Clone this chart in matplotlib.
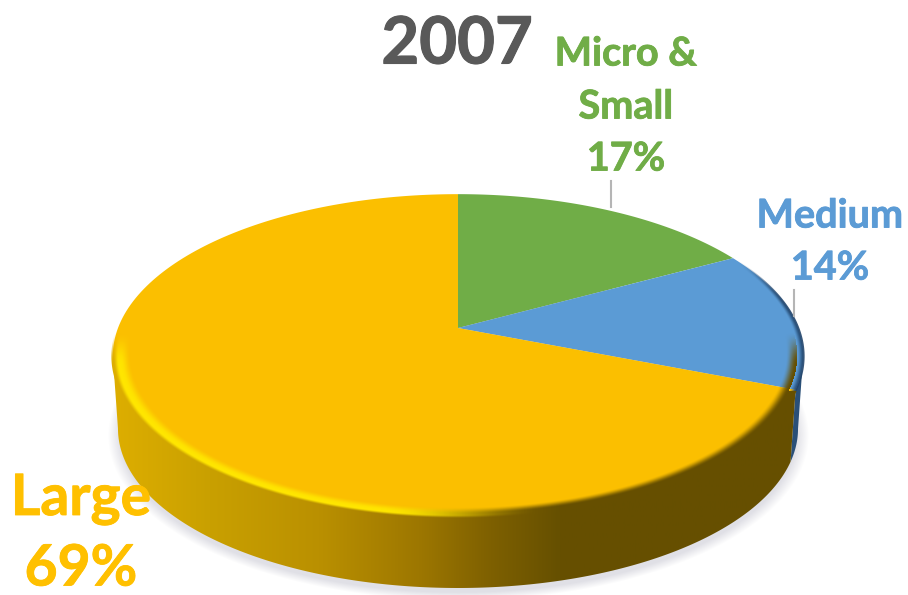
import numpy as np
import matplotlib
matplotlib.use('Agg')
import matplotlib.pyplot as plt
import matplotlib.patheffects as pe
from matplotlib.colors import LinearSegmentedColormap
from matplotlib.patches import Polygon

# Market share by firm size, clockwise from twelve o'clock
title = '2007'
sizes = ['Micro &\nSmall', 'Medium', 'Large']
shares = [17, 14, 69]
face_colors = ['#70AD47', '#5B9BD5', '#FBBF00']
text_colors = ['#70AD47', '#5B9BD5', '#FFC000']

# Perspective disc: pixel canvas, tip of the slices at (cx, cy)
cx, cy = 458, 328
a, b, p = 340, 157, 0.173
depth, base_scale = 73, 0.985


def project(theta, r=1.0, base=False):
    x = r * np.sin(theta)
    y = r * np.cos(theta)
    w = 1 + p * y
    if base:
        return cx + base_scale * a * x / w, cy + depth - base_scale * b * y / w
    return cx + a * x / w, cy - b * y / w


def disc_radius(X, Y, dy=0.0, scale=1.0):
    # pixel grid back to the unit circle of the disc
    u = (X - cx) / (a * scale)
    v = (cy + dy - Y) / (b * scale)
    y = v / (1 - p * v)
    x = u * (1 + p * y)
    return np.hypot(x, y), y


def side_outline(t0, t1):
    t = np.radians(np.linspace(t0, t1, 200))
    xt, yt = project(t)
    xb, yb = project(t[::-1], base=True)
    return np.column_stack([np.r_[xt, xb], np.r_[yt, yb]])


def smooth(v):
    v = np.clip(v, 0, 1)
    return v * v * (3 - 2 * v)


fig = plt.figure(figsize=(9.08, 5.95), dpi=100)
ax = fig.add_axes([0, 0, 1, 1])

gx, gy = np.meshgrid(np.arange(0, 908), np.arange(0, 595))
extent = (0, 908, 595, 0)

# Soft shadow under the disc
r_shadow, _ = disc_radius(gx, gy, dy=depth + 5, scale=base_scale)
shadow = np.zeros(gx.shape + (4,))
shadow[..., :3] = (0.80, 0.80, 0.84)
shadow[..., 3] = 0.6 * np.clip((1.03 - r_shadow) / 0.035, 0, 1)
ax.imshow(shadow, extent=extent, aspect='auto', zorder=1, interpolation='bilinear')

# Slice boundaries follow from the shares
edges = np.r_[0, np.cumsum(shares)] * 360 / sum(shares)
# Angles where the disc outline turns, left and right extremes
turn = np.degrees(np.arccos(-p))

# Side wall of the blue slice, only its outer sliver shows
blue_side = Polygon(side_outline(turn, edges[2]), closed=True, fc='#2A5078', ec='none', zorder=2)
ax.add_patch(blue_side)

# Side wall of the large slice with a left to right shading
side_cmap = LinearSegmentedColormap.from_list('side', [
    (0.00, '#DDAE00'), (0.14, '#C9A000'), (0.30, '#BA9000'),
    (0.45, '#9C7600'), (0.55, '#7E6000'), (0.65, '#665000'), (1.00, '#664F00')])
yellow_side = Polygon(side_outline(edges[2], 360 - turn), closed=True, fc='none', ec='none', zorder=3)
ax.add_patch(yellow_side)
grad = ax.imshow(np.linspace(0, 1, 256).reshape(1, -1), cmap=side_cmap, extent=(113, 800, 595, 0),
                 aspect='auto', zorder=3)
grad.set_clip_path(yellow_side)

# Top face slices
for i in range(len(shares)):
    t = np.radians(np.linspace(edges[i], edges[i + 1], 200))
    xs, ys = project(t)
    pts = np.column_stack([np.r_[cx, xs], np.r_[cy, ys]])
    ax.add_patch(Polygon(pts, closed=True, fc=face_colors[i], ec='none', zorder=4))

# Bevel along the rim: a bright ridge on the left, fading into the wall colour
r_top, y_top = disc_radius(gx, gy)
t_band = np.clip((r_top - 0.95) / 0.05, 0, 1)
front = smooth((-0.02 - y_top) / 0.2)
wall = side_cmap(np.clip((gx - 113) / 687, 0, 1))[..., :3]
bright = np.array([1.0, 0.9, 0.0])
dark = smooth((gx - 380) / 160)[..., None]
ridge = bright * (1 - dark) + wall * dark
to_wall = smooth((t_band - 0.7) / 0.3)[..., None]
bevel = np.zeros(gx.shape + (4,))
bevel[..., :3] = ridge * (1 - to_wall) + wall * to_wall
bevel[..., 3] = front * smooth(t_band / 0.6)
# thin dark edge on the blue slice
edge = smooth((r_top - 0.982) / 0.018) * smooth((gx - 735) / 50) * (y_top > -0.37)
use_edge = edge > 0
bevel[use_edge, :3] = (0.13, 0.27, 0.42)
bevel[use_edge, 3] = 0.9 * edge[use_edge]
bevel_img = ax.imshow(bevel, extent=extent, aspect='auto', zorder=5, interpolation='bilinear')
xo, yo = project(np.radians(np.linspace(0, 360, 500)), r=1.004)
rim = Polygon(np.column_stack([xo, yo]), closed=True, fc='none', ec='none', zorder=5)
ax.add_patch(rim)
bevel_img.set_clip_path(rim)

# Leader lines
ax.plot([611, 611], [181, 207], color='#B5B5B5', lw=1.5, zorder=6)
ax.plot([794, 794], [290, 316], color='#B5B5B5', lw=1.5, zorder=6)

# Text, thickened a little with a stroke in its own colour
font = 'Lato'
t = ax.text(457, 45, title, color='#595959', fontsize=47, fontweight='bold', family=font,
            ha='center', va='center', zorder=7)
t.set_path_effects([pe.withStroke(linewidth=0.8, foreground='#595959')])

label_x = [626, 830, 81]
label_y = [[54, 107, 159], [216, 268], [499, 569]]
label_size = [28.5, 28.5, 41]
for i in range(len(shares)):
    lines = sizes[i].split('\n') + [f'{shares[i]}%']
    for line, y in zip(lines, label_y[i]):
        t = ax.text(label_x[i], y, line, color=text_colors[i], fontsize=label_size[i], fontweight='bold',
                    family=font, ha='center', va='center', zorder=7)
        t.set_path_effects([pe.withStroke(linewidth=0.6, foreground=text_colors[i])])

ax.set_xlim(0, 908)
ax.set_ylim(595, 0)
ax.axis('off')

fig.savefig('out.png', dpi=100)
